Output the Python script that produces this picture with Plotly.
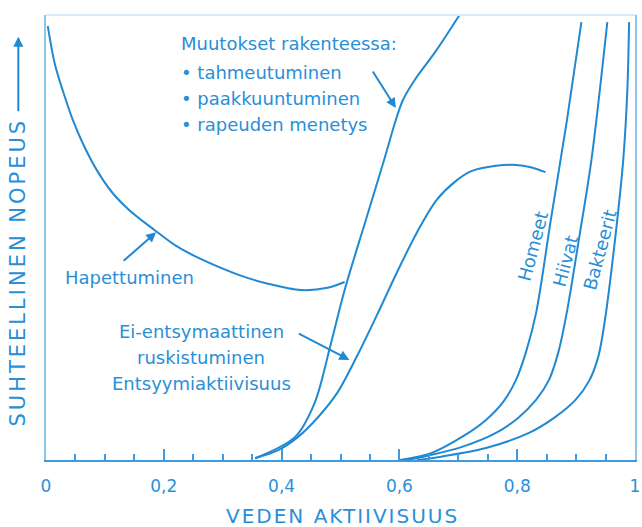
import plotly.graph_objects as go

# ---------------- data ----------------
# Hapettuminen (oxidation)
ox_aw = [0.003, 0.015, 0.029, 0.045, 0.062, 0.086, 0.113, 0.141, 0.184, 0.221, 0.259, 0.327, 0.377, 0.433, 0.478, 0.507]
ox_rate = [0.975, 0.890, 0.828, 0.766, 0.713, 0.652, 0.600, 0.562, 0.517, 0.481, 0.454, 0.416, 0.396, 0.382, 0.387, 0.400]

# Muutokset rakenteessa / entsyymiaktiivisuus (steep curve)
tex_aw = [0.355, 0.423, 0.456, 0.483, 0.507, 0.542, 0.574, 0.593, 0.606, 0.626, 0.663, 0.702]
tex_rate = [0.004, 0.052, 0.128, 0.258, 0.382, 0.535, 0.674, 0.760, 0.809, 0.854, 0.921, 1.000]

# Ei-entsymaattinen ruskistuminen (bell curve)
brown_aw = [0.355, 0.394, 0.428, 0.461, 0.495, 0.529, 0.562, 0.596, 0.630, 0.663, 0.694, 0.722, 0.764, 0.798, 0.823, 0.848]
brown_rate = [0.004, 0.022, 0.052, 0.095, 0.152, 0.236, 0.326, 0.422, 0.512, 0.584, 0.625, 0.649, 0.661, 0.663, 0.658, 0.647]

# Homeet (moulds)
mould_aw = [0.601, 0.655, 0.709, 0.747, 0.776, 0.798, 0.815, 0.832, 0.857, 0.884, 0.909]
mould_rate = [0.000, 0.016, 0.054, 0.090, 0.130, 0.180, 0.243, 0.330, 0.539, 0.760, 0.984]

# Hiivat (yeasts)
yeast_aw = [0.613, 0.646, 0.705, 0.764, 0.801, 0.832, 0.854, 0.870, 0.884, 0.906, 0.926, 0.953]
yeast_rate = [0.000, 0.009, 0.029, 0.061, 0.094, 0.135, 0.180, 0.243, 0.330, 0.506, 0.674, 0.984]

# Bakteerit (bacteria)
bact_aw = [0.630, 0.668, 0.747, 0.820, 0.865, 0.899, 0.923, 0.938, 0.949, 0.966, 0.980, 0.987, 0.990]
bact_rate = [0.000, 0.007, 0.027, 0.061, 0.097, 0.135, 0.180, 0.234, 0.315, 0.494, 0.674, 0.831, 0.984]

tick_vals = [0, 0.2, 0.4, 0.6, 0.8, 1]
tick_text = ["0", "0,2", "0,4", "0,6", "0,8", "1"]

# ---------------- style ----------------
LINE = "#2189d2"
TEXT = "#2a8fd7"
FONT = "DejaVu Sans"

fig = go.Figure()
for xs, ys in [(ox_aw, ox_rate), (tex_aw, tex_rate), (brown_aw, brown_rate),
               (mould_aw, mould_rate), (yeast_aw, yeast_rate), (bact_aw, bact_rate)]:
    fig.add_trace(go.Scatter(x=xs, y=ys, mode="lines",
                             line=dict(color=LINE, width=2, shape="spline", smoothing=0.9),
                             hoverinfo="skip", showlegend=False))

def txt(text, x, y, xanchor="left", angle=0, size=18):
    fig.add_annotation(text=text, x=x, y=y, xref="paper", yref="paper", xanchor=xanchor,
                       yanchor="middle", showarrow=False, textangle=angle,
                       font=dict(family=FONT, size=size, color=TEXT))

def arrow(x, y, ax, ay):
    fig.add_annotation(text="", x=x, y=y, xref="paper", yref="paper", ax=ax, ay=ay,
                       showarrow=True, arrowhead=2, arrowsize=1, arrowwidth=2,
                       arrowcolor=LINE, standoff=0)

# texture label
txt("Muutokset rakenteessa:", 0.2256, 0.935)
txt("• tahmeutuminen", 0.2256, 0.870)
txt("• paakkuuntuminen", 0.2256, 0.813)
txt("• rapeuden menetys", 0.2256, 0.753)
arrow(0.594, 0.791, -24, -38)

# oxidation label
txt("Hapettuminen", 0.0286, 0.411)
arrow(0.187, 0.512, -34, 30)

# browning / enzyme labels
txt("Ei-entsymaattinen", 0.264, 0.288, xanchor="center")
txt("ruskistuminen", 0.264, 0.231, xanchor="center")
txt("Entsyymiaktiivisuus", 0.264, 0.173, xanchor="center")
arrow(0.515, 0.225, -52, -27)

# microbes
txt("Homeet", 0.827, 0.479, xanchor="center", angle=-75)
txt("Hiivat", 0.881, 0.447, xanchor="center", angle=-75)
txt("Bakteerit", 0.941, 0.472, xanchor="center", angle=-75)

# axis titles
txt('<span style="letter-spacing:3px">SUHTEELLINEN NOPEUS</span>', -0.047, 0.422,
    xanchor="center", angle=-90, size=21)
arrow(-0.047, 0.951, 0, 76)
txt('<span style="letter-spacing:2px">VEDEN AKTIIVISUUS</span>', 0.503, -0.126,
    xanchor="center", size=20)

fig.add_shape(type="line", xref="paper", yref="paper", x0=0, x1=1, y0=1, y1=1,
              line=dict(color="#d6eaf8", width=2))

fig.update_layout(
    width=642, height=527,
    margin=dict(l=46, r=2, t=15, b=67),
    plot_bgcolor="white", paper_bgcolor="white",
    xaxis=dict(range=[0, 1], showgrid=False, zeroline=False,
               showline=True, linecolor="#3d9be0", linewidth=2,
               ticks="inside", ticklen=11, tickwidth=2, tickcolor="#3d9be0",
               tickvals=tick_vals, ticktext=tick_text,
               tickfont=dict(family=FONT, size=17, color=TEXT),
               ticklabelstandoff=10, ticklabeloverflow="allow",
               minor=dict(ticks="inside", ticklen=6, tickwidth=1.5,
                          tickcolor="#3d9be0", dtick=0.05, tick0=0, showgrid=False)),
    yaxis=dict(range=[0, 1], showgrid=False, zeroline=False, showticklabels=False,
               showline=True, linecolor="#8cc4ec", linewidth=1.5, mirror=True, ticks=""),
)

fig.write_html("out.html", config={"displayModeBar": False},
               post_script="document.body.style.margin='0';")
